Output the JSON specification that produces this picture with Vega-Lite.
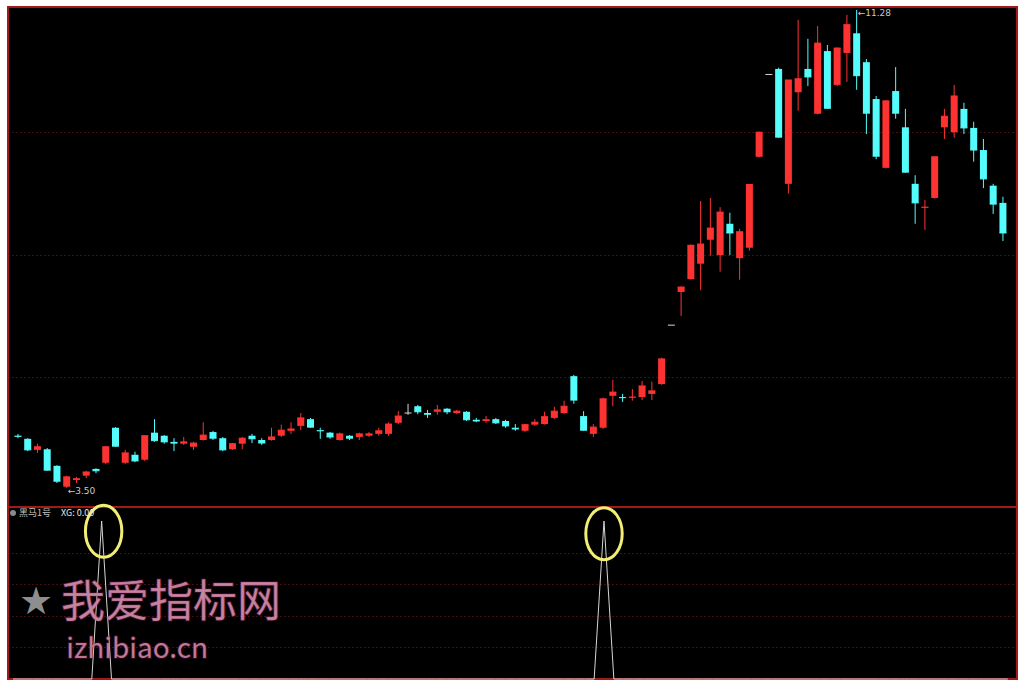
{
  "$schema": "https://vega.github.io/schema/vega-lite/v6.json",
  "background": "#ffffff",
  "padding": {"left": 7, "top": 6, "right": 8, "bottom": 11},
  "spacing": 0,
  "bounds": "flush",
  "config": {
    "view": {"stroke": "#a01a1a", "strokeWidth": 2, "fill": "#000000"},
    "concat": {"spacing": 0}
  },
  "datasets": {
    "k": [
      {"i":0,"o":4.35,"h":4.38,"l":4.31,"c":4.34,"xg":0},
      {"i":1,"o":4.30,"h":4.31,"l":4.10,"c":4.12,"xg":0},
      {"i":2,"o":4.12,"h":4.22,"l":4.07,"c":4.17,"xg":0},
      {"i":3,"o":4.13,"h":4.15,"l":3.78,"c":3.79,"xg":0},
      {"i":4,"o":3.86,"h":3.87,"l":3.58,"c":3.61,"xg":0},
      {"i":5,"o":3.52,"h":3.70,"l":3.50,"c":3.68,"xg":0},
      {"i":6,"o":3.63,"h":3.68,"l":3.58,"c":3.65,"xg":0},
      {"i":7,"o":3.70,"h":3.78,"l":3.66,"c":3.76,"xg":0},
      {"i":8,"o":3.81,"h":3.82,"l":3.74,"c":3.78,"xg":0},
      {"i":9,"o":3.91,"h":4.18,"l":3.89,"c":4.17,"xg":1},
      {"i":10,"o":4.48,"h":4.49,"l":4.17,"c":4.18,"xg":0},
      {"i":11,"o":3.91,"h":4.12,"l":3.89,"c":4.07,"xg":0},
      {"i":12,"o":4.04,"h":4.09,"l":3.92,"c":3.94,"xg":0},
      {"i":13,"o":3.96,"h":4.36,"l":3.94,"c":4.35,"xg":0},
      {"i":14,"o":4.40,"h":4.62,"l":4.25,"c":4.27,"xg":0},
      {"i":15,"o":4.35,"h":4.36,"l":4.22,"c":4.25,"xg":0},
      {"i":16,"o":4.25,"h":4.31,"l":4.10,"c":4.23,"xg":0},
      {"i":17,"o":4.22,"h":4.33,"l":4.20,"c":4.25,"xg":0},
      {"i":18,"o":4.17,"h":4.25,"l":4.12,"c":4.23,"xg":0},
      {"i":19,"o":4.28,"h":4.57,"l":4.27,"c":4.36,"xg":0},
      {"i":20,"o":4.41,"h":4.43,"l":4.28,"c":4.31,"xg":0},
      {"i":21,"o":4.31,"h":4.33,"l":4.10,"c":4.12,"xg":0},
      {"i":22,"o":4.13,"h":4.23,"l":4.12,"c":4.22,"xg":0},
      {"i":23,"o":4.22,"h":4.33,"l":4.13,"c":4.31,"xg":0},
      {"i":24,"o":4.35,"h":4.38,"l":4.23,"c":4.30,"xg":0},
      {"i":25,"o":4.28,"h":4.31,"l":4.20,"c":4.23,"xg":0},
      {"i":26,"o":4.28,"h":4.48,"l":4.27,"c":4.33,"xg":0},
      {"i":27,"o":4.35,"h":4.53,"l":4.33,"c":4.44,"xg":0},
      {"i":28,"o":4.43,"h":4.57,"l":4.38,"c":4.46,"xg":0},
      {"i":29,"o":4.51,"h":4.72,"l":4.44,"c":4.64,"xg":0},
      {"i":30,"o":4.62,"h":4.64,"l":4.48,"c":4.49,"xg":0},
      {"i":31,"o":4.44,"h":4.48,"l":4.30,"c":4.43,"xg":0},
      {"i":32,"o":4.40,"h":4.41,"l":4.30,"c":4.33,"xg":0},
      {"i":33,"o":4.28,"h":4.40,"l":4.27,"c":4.38,"xg":0},
      {"i":34,"o":4.35,"h":4.36,"l":4.28,"c":4.31,"xg":0},
      {"i":35,"o":4.33,"h":4.40,"l":4.28,"c":4.38,"xg":0},
      {"i":36,"o":4.35,"h":4.41,"l":4.33,"c":4.38,"xg":0},
      {"i":37,"o":4.38,"h":4.48,"l":4.35,"c":4.43,"xg":0},
      {"i":38,"o":4.38,"h":4.57,"l":4.35,"c":4.54,"xg":0},
      {"i":39,"o":4.56,"h":4.75,"l":4.54,"c":4.67,"xg":0},
      {"i":40,"o":4.72,"h":4.87,"l":4.69,"c":4.72,"xg":0},
      {"i":41,"o":4.83,"h":4.85,"l":4.70,"c":4.74,"xg":0},
      {"i":42,"o":4.72,"h":4.77,"l":4.64,"c":4.70,"xg":0},
      {"i":43,"o":4.74,"h":4.85,"l":4.69,"c":4.77,"xg":0},
      {"i":44,"o":4.79,"h":4.80,"l":4.70,"c":4.74,"xg":0},
      {"i":45,"o":4.72,"h":4.77,"l":4.70,"c":4.75,"xg":0},
      {"i":46,"o":4.74,"h":4.75,"l":4.59,"c":4.61,"xg":0},
      {"i":47,"o":4.61,"h":4.64,"l":4.57,"c":4.59,"xg":0},
      {"i":48,"o":4.59,"h":4.67,"l":4.56,"c":4.61,"xg":0},
      {"i":49,"o":4.62,"h":4.64,"l":4.54,"c":4.56,"xg":0},
      {"i":50,"o":4.59,"h":4.61,"l":4.48,"c":4.51,"xg":0},
      {"i":51,"o":4.48,"h":4.54,"l":4.43,"c":4.46,"xg":0},
      {"i":52,"o":4.43,"h":4.54,"l":4.41,"c":4.53,"xg":0},
      {"i":53,"o":4.53,"h":4.62,"l":4.51,"c":4.57,"xg":0},
      {"i":54,"o":4.54,"h":4.74,"l":4.53,"c":4.66,"xg":0},
      {"i":55,"o":4.64,"h":4.82,"l":4.62,"c":4.75,"xg":0},
      {"i":56,"o":4.72,"h":4.92,"l":4.70,"c":4.83,"xg":0},
      {"i":57,"o":5.32,"h":5.34,"l":4.87,"c":4.93,"xg":0},
      {"i":58,"o":4.67,"h":4.75,"l":4.43,"c":4.44,"xg":0},
      {"i":59,"o":4.38,"h":4.54,"l":4.33,"c":4.49,"xg":0},
      {"i":60,"o":4.48,"h":4.97,"l":4.46,"c":4.95,"xg":1},
      {"i":61,"o":5.00,"h":5.26,"l":4.83,"c":5.06,"xg":0},
      {"i":62,"o":4.98,"h":5.03,"l":4.90,"c":4.97,"xg":0},
      {"i":63,"o":4.97,"h":5.11,"l":4.92,"c":4.98,"xg":0},
      {"i":64,"o":4.98,"h":5.24,"l":4.93,"c":5.16,"xg":0},
      {"i":65,"o":5.03,"h":5.23,"l":4.93,"c":5.08,"xg":0},
      {"i":66,"o":5.19,"h":5.62,"l":5.18,"c":5.60,"xg":0},
      {"i":67,"o":6.15,"h":6.15,"l":6.15,"c":6.15,"xg":0},
      {"i":68,"o":6.69,"h":6.78,"l":6.30,"c":6.77,"xg":0},
      {"i":69,"o":6.90,"h":7.46,"l":6.89,"c":7.45,"xg":0},
      {"i":70,"o":7.15,"h":8.17,"l":6.72,"c":7.47,"xg":0},
      {"i":71,"o":7.54,"h":8.22,"l":7.28,"c":7.73,"xg":0},
      {"i":72,"o":7.29,"h":8.07,"l":7.02,"c":7.99,"xg":0},
      {"i":73,"o":7.80,"h":7.98,"l":7.29,"c":7.65,"xg":0},
      {"i":74,"o":7.24,"h":7.72,"l":6.89,"c":7.67,"xg":0},
      {"i":75,"o":7.41,"h":8.45,"l":7.36,"c":8.44,"xg":0},
      {"i":76,"o":8.89,"h":9.30,"l":8.88,"c":9.29,"xg":0},
      {"i":77,"o":10.23,"h":10.23,"l":10.23,"c":10.23,"xg":0},
      {"i":78,"o":10.32,"h":10.34,"l":9.20,"c":9.21,"xg":0},
      {"i":79,"o":8.45,"h":10.14,"l":8.29,"c":10.14,"xg":0},
      {"i":80,"o":9.94,"h":11.12,"l":9.64,"c":10.16,"xg":0},
      {"i":81,"o":10.32,"h":10.81,"l":10.04,"c":10.19,"xg":0},
      {"i":82,"o":9.59,"h":11.02,"l":9.58,"c":10.74,"xg":0},
      {"i":83,"o":10.61,"h":10.71,"l":9.67,"c":9.68,"xg":0},
      {"i":84,"o":10.06,"h":10.67,"l":10.04,"c":10.66,"xg":0},
      {"i":85,"o":10.58,"h":11.20,"l":10.11,"c":11.04,"xg":0},
      {"i":86,"o":10.90,"h":11.28,"l":9.98,"c":10.21,"xg":0},
      {"i":87,"o":10.43,"h":10.48,"l":9.26,"c":9.60,"xg":0},
      {"i":88,"o":9.83,"h":9.88,"l":8.85,"c":8.90,"xg":0},
      {"i":89,"o":8.71,"h":9.81,"l":8.70,"c":9.80,"xg":0},
      {"i":90,"o":9.96,"h":10.35,"l":9.51,"c":9.60,"xg":0},
      {"i":91,"o":9.37,"h":9.67,"l":8.63,"c":8.64,"xg":0},
      {"i":92,"o":8.45,"h":8.59,"l":7.80,"c":8.14,"xg":0},
      {"i":93,"o":8.06,"h":8.19,"l":7.70,"c":8.07,"xg":0},
      {"i":94,"o":8.22,"h":8.89,"l":8.21,"c":8.89,"xg":0},
      {"i":95,"o":9.37,"h":9.67,"l":9.18,"c":9.55,"xg":0},
      {"i":96,"o":9.29,"h":10.06,"l":9.20,"c":9.88,"xg":0},
      {"i":97,"o":9.67,"h":9.77,"l":9.26,"c":9.36,"xg":0},
      {"i":98,"o":9.36,"h":9.46,"l":8.81,"c":9.00,"xg":0},
      {"i":99,"o":9.00,"h":9.18,"l":8.38,"c":8.53,"xg":0},
      {"i":100,"o":8.42,"h":8.45,"l":7.96,"c":8.12,"xg":0},
      {"i":101,"o":8.14,"h":8.24,"l":7.52,"c":7.65,"xg":0}
    ],
    "pricenotes": [
      {"i":5,"p":3.50,"t":"←3.50"},
      {"i":86,"p":11.28,"t":"←11.28"}
    ],
    "rings": [
      {"i":9.2,"v":0.935},
      {"i":60,"v":0.92}
    ],
    "legend": [
      {"i":0.0,"v":1.05,"t":"黑马1号","part":"name"},
      {"i":4.26,"v":1.05,"t":"XG: 0.00","part":"value"}
    ],
    "watermark": [
      {"i":4.87,"v":0.39,"t":"我爱指标网","part":"cn"},
      {"i":5.4,"v":0.135,"t":"izhibiao.cn","part":"en"}
    ],
    "star": [
      {"i":2.34,"v":0.481,"t":"★"}
    ]
  },
  "vconcat": [
    {
      "width": 1009,
      "height": 500,
      "encoding": {
        "x": {"field": "i", "type": "quantitative", "scale": {"domain": [-0.508, 101.93], "nice": false, "zero": false}, "axis": null}
      },
      "layer": [
        {
          "data": {"name": "k"},
          "mark": {"type": "rule", "strokeWidth": 1},
          "encoding": {
            "y": {"field": "l", "type": "quantitative", "scale": {"domain": [3.19, 11.328], "nice": false, "zero": false},
              "axis": {"grid": true, "values": [5.31, 7.29, 9.29], "labels": false, "ticks": false, "domain": false, "title": null, "gridColor": "#8b1c1c", "gridDash": [1, 3], "gridWidth": 1, "gridOpacity": 1}},
            "y2": {"field": "h"},
            "color": {"condition": [{"test": "datum.c > datum.o", "value": "#ff3232"}, {"test": "datum.c < datum.o", "value": "#54fcfc"}], "value": "#d8d8d8"}
          }
        },
        {
          "data": {"name": "k"},
          "mark": {"type": "bar", "size": 7},
          "encoding": {
            "y": {"field": "o", "type": "quantitative"},
            "y2": {"field": "c"},
            "color": {"condition": [{"test": "datum.c > datum.o", "value": "#ff3232"}, {"test": "datum.c < datum.o", "value": "#54fcfc"}], "value": "#d8d8d8"}
          }
        },
        {
          "data": {"name": "k"},
          "mark": {"type": "tick", "orient": "horizontal", "size": 7, "thickness": 1, "opacity": 1},
          "encoding": {
            "y": {"field": "c", "type": "quantitative"},
            "color": {"condition": [{"test": "datum.c > datum.o", "value": "#ff3232"}, {"test": "datum.c < datum.o", "value": "#54fcfc"}], "value": "#d8d8d8"}
          }
        },
        {
          "data": {"name": "pricenotes"},
          "mark": {"type": "text", "align": "left", "baseline": "middle", "dx": 1, "dy": 3, "fontSize": 9, "font": "DejaVu Sans", "color": "#c8c8c8"},
          "encoding": {
            "y": {"field": "p", "type": "quantitative"},
            "text": {"field": "t"}
          }
        }
      ]
    },
    {
      "width": 1009,
      "height": 172,
      "encoding": {
        "x": {"field": "i", "type": "quantitative", "scale": {"domain": [-0.508, 101.93], "nice": false, "zero": false}, "axis": null}
      },
      "layer": [
        {
          "data": {"name": "k"},
          "mark": {"type": "line", "color": "#d6d6d6", "strokeWidth": 1},
          "encoding": {
            "y": {"field": "xg", "type": "quantitative", "scale": {"domain": [0, 1.0886], "nice": false, "zero": false},
              "axis": {"grid": true, "values": [0.2, 0.4, 0.6, 0.8], "labels": false, "ticks": false, "domain": false, "title": null, "gridColor": "#8b1c1c", "gridDash": [1, 3], "gridWidth": 1, "gridOpacity": 1}}
          }
        },
        {
          "data": {"name": "star"},
          "mark": {"type": "text", "align": "center", "baseline": "middle", "fontSize": 38, "font": "DejaVu Sans", "color": "#8e8e8e"},
          "encoding": {
            "y": {"field": "v", "type": "quantitative"},
            "text": {"field": "t"}
          }
        },
        {
          "data": {"name": "watermark"},
          "mark": {"type": "text", "align": "left", "baseline": "alphabetic", "font": "Noto Sans CJK SC", "color": "#c48aa4", "stroke": "#b0306c", "strokeWidth": 2, "strokeOpacity": 0.25},
          "encoding": {
            "y": {"field": "v", "type": "quantitative"},
            "text": {"field": "t"},
            "size": {"field": "part", "type": "nominal", "scale": {"domain": ["cn", "en"], "range": [44, 28]}, "legend": null}
          }
        },
        {
          "data": {"name": "rings"},
          "mark": {"type": "point", "shape": "M -0.7 0 A 0.7 1 0 1 0 0.7 0 A 0.7 1 0 1 0 -0.7 0 Z", "size": 2704, "filled": false, "color": "#f2ee74", "strokeWidth": 3, "opacity": 1},
          "encoding": {
            "y": {"field": "v", "type": "quantitative"}
          }
        },
        {
          "data": {"name": "legend"},
          "mark": {"type": "point", "shape": "circle", "size": 36, "filled": true, "color": "#8a8a8a", "opacity": 1},
          "transform": [{"filter": "datum.part == 'name'"}],
          "encoding": {
            "y": {"field": "v", "type": "quantitative"}
          }
        },
        {
          "data": {"name": "legend"},
          "mark": {"type": "text", "align": "left", "baseline": "middle", "fontSize": 9, "font": "Noto Sans CJK SC", "dx": 6},
          "encoding": {
            "y": {"field": "v", "type": "quantitative"},
            "text": {"field": "t"},
            "color": {"field": "part", "type": "nominal", "scale": {"domain": ["name", "value"], "range": ["#c4c4c4", "#e8e8e8"]}, "legend": null}
          }
        }
      ]
    }
  ]
}
